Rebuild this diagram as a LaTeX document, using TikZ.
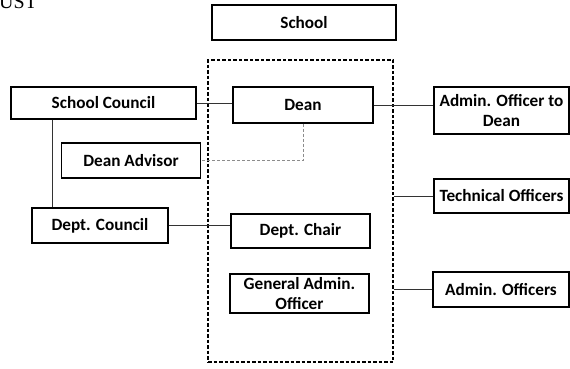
\documentclass[tikz,border=0pt]{standalone}
\usepackage{fontspec}
\setsansfont{Carlito}
\newfontfamily\capfont{Liberation Serif}
\usetikzlibrary{positioning,calc}
\tikzset{UNIT/.style={rectangle, draw, line width=1.2pt, align=center, inner sep=1pt, font=\sffamily\bfseries\fontsize{17.2}{20}\selectfont}}
\tikzset{LINK/.style={line width=0.6pt, black!80}}
\tikzset{ADVISE/.style={line width=0.7pt, black!45, densely dashed}}
\tikzset{FRAME/.style={rectangle, draw, line width=1.1pt, dash pattern=on 3.5pt off 2pt, minimum width=185pt, minimum height=302pt}}

\begin{document}
\begin{tikzpicture}[x=1pt, y=-1pt]
    \useasboundingbox (0,0) rectangle (570,368);
    \clip (0,0) rectangle (570,368);

    \node[font=\capfont\fontsize{20}{24}\selectfont, anchor=base west, inner sep=0pt] (n_caption) at (-1,8) {UST};

    \node[FRAME] (n_frame) at (300.5,211) {};

    \node[UNIT, minimum width=184pt, minimum height=35pt] (n_school) at (304,22.5) {School};
    \node[UNIT, minimum width=185pt, minimum height=32pt] (n_council) at (103.5,103) {School Council};
    \node[UNIT, minimum width=140pt, minimum height=36pt] (n_dean) at (303,105) {Dean};
    \node[UNIT, minimum width=135pt, minimum height=47pt] (n_aod) at (501.5,110.5) {Admin. Officer to\\Dean};
    \node[UNIT, minimum width=139pt, minimum height=35pt] (n_advisor) at (131,160.5) {Dean Advisor};
    \node[UNIT, minimum width=135pt, minimum height=34pt] (n_tech) at (501.5,196) {Technical Officers};
    \node[UNIT, minimum width=136pt, minimum height=35pt] (n_dcouncil) at (100,225.5) {Dept. Council};
    \node[UNIT, minimum width=139pt, minimum height=34pt] (n_chair) at (300.5,231) {Dept. Chair};
    \node[UNIT, minimum width=139pt, minimum height=39pt] (n_gao) at (299.5,293.5) {General Admin.\\Officer};
    \node[UNIT, minimum width=136pt, minimum height=35pt] (n_aoff) at (501,289.5) {Admin. Officers};

    % council side
    \draw[LINK] (n_council.east) -- (n_council.east -| n_dean.west);
    \coordinate (c_split) at ($(n_council.south west)+(42,0)$);
    \draw[LINK] (c_split) -- (c_split |- n_dcouncil.north);
    \draw[LINK] (n_dcouncil.east) -- (n_dcouncil.east -| n_chair.west);

    % advisor
    \draw[ADVISE] (n_dean.south) -- (n_dean.south |- n_advisor.east) -- (n_advisor.east);

    % officers
    \draw[LINK] (n_dean.east) -- (n_dean.east -| n_aod.west);
    \draw[LINK] (n_frame.east |- n_tech.west) -- (n_tech.west);
    \draw[LINK] (n_frame.east |- n_aoff.west) -- (n_aoff.west);

\end{tikzpicture}
\end{document}
